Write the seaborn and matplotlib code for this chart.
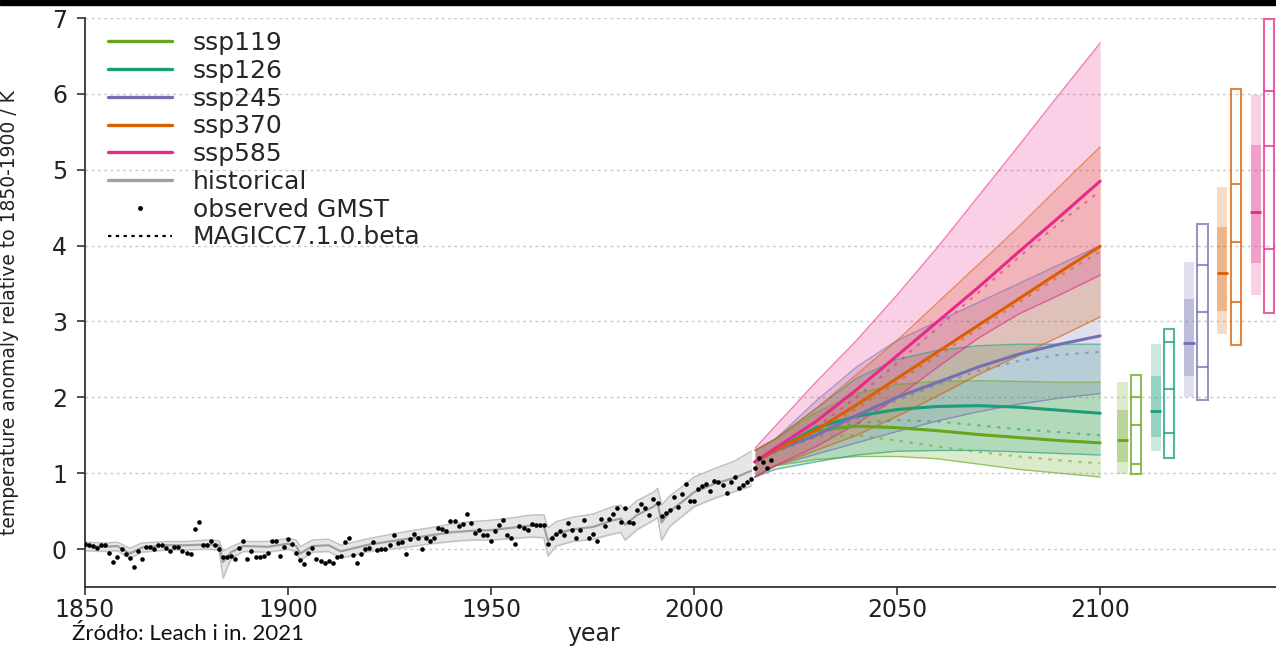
import matplotlib
matplotlib.use('Agg')
import matplotlib.pyplot as plt
from matplotlib.lines import Line2D
from matplotlib.patches import Rectangle
import seaborn as sns

# scenarios and colours
scenarios = ['ssp119', 'ssp126', 'ssp245', 'ssp370', 'ssp585']
colors = ['#66a61e', '#1b9e77', '#7570b3', '#d95f02', '#e7298a']

# observed GMST, 1850-2019
obs_years = list(range(1850, 2020))
obs_gmst = [
    0.07, 0.06, 0.04, 0.02, 0.05, 0.05, -0.05, -0.17, -0.10, 0.00,
    -0.07, -0.12, -0.24, -0.03, -0.13, 0.03, 0.03, 0.00, 0.05, 0.06,
    0.02, -0.03, 0.03, 0.03, -0.03, -0.05, -0.07, 0.26, 0.36, 0.06,
    0.05, 0.10, 0.06, 0.00, -0.10, -0.10, -0.09, -0.13, 0.01, 0.11,
    -0.13, -0.03, -0.11, -0.11, -0.09, -0.05, 0.10, 0.10, -0.09, 0.03,
    0.13, 0.07, -0.05, -0.15, -0.20, -0.05, 0.02, -0.13, -0.16, -0.19,
    -0.16, -0.19, -0.11, -0.09, 0.09, 0.14, -0.08, -0.18, -0.06, 0.00,
    0.02, 0.09, -0.01, 0.00, 0.00, 0.06, 0.19, 0.08, 0.09, -0.07,
    0.13, 0.20, 0.14, 0.00, 0.14, 0.10, 0.14, 0.28, 0.27, 0.24,
    0.37, 0.37, 0.31, 0.33, 0.46, 0.34, 0.21, 0.25, 0.19, 0.19,
    0.10, 0.24, 0.32, 0.38, 0.19, 0.14, 0.07, 0.30, 0.28, 0.25,
    0.33, 0.32, 0.32, 0.32, 0.07, 0.15, 0.20, 0.24, 0.19, 0.34,
    0.25, 0.15, 0.25, 0.38, 0.15, 0.20, 0.11, 0.40, 0.30, 0.39,
    0.46, 0.54, 0.36, 0.54, 0.36, 0.35, 0.51, 0.59, 0.54, 0.45,
    0.66, 0.61, 0.44, 0.47, 0.52, 0.68, 0.56, 0.72, 0.86, 0.63,
    0.63, 0.79, 0.83, 0.86, 0.77, 0.90, 0.88, 0.85, 0.74, 0.88,
    0.95, 0.81, 0.85, 0.88, 0.93, 1.07, 1.20, 1.15, 1.07, 1.18,
]

# historical model run: median and range
hist_years = [1850, 1855, 1858, 1861, 1864, 1870, 1875, 1880, 1883, 1884,
              1886, 1889, 1895, 1900, 1902, 1903, 1906, 1910, 1913, 1920,
              1925, 1930, 1935, 1940, 1945, 1950, 1955, 1960, 1963, 1964,
              1966, 1970, 1975, 1980, 1982, 1983, 1986, 1990, 1991, 1992,
              1994, 1997, 2000, 2005, 2010, 2014]
hist_mid = [0.04, 0.03, 0.04, -0.06, 0.02, 0.05, 0.05, 0.06, 0.05, -0.17,
            -0.04, 0.04, 0.03, 0.07, 0.04, -0.06, 0.04, 0.05, -0.03, 0.06,
            0.10, 0.14, 0.18, 0.22, 0.24, 0.25, 0.28, 0.31, 0.30, 0.11,
            0.20, 0.26, 0.29, 0.38, 0.40, 0.32, 0.45, 0.56, 0.61, 0.35,
            0.50, 0.62, 0.75, 0.86, 0.94, 1.03]
hist_lo = [-0.02, -0.03, -0.02, -0.12, -0.04, -0.01, -0.01, 0.00, -0.01, -0.38,
           -0.12, -0.03, -0.04, 0.00, -0.03, -0.15, -0.04, -0.03, -0.12, -0.03,
           0.00, 0.03, 0.07, 0.10, 0.12, 0.12, 0.14, 0.16, 0.15, -0.09,
           0.04, 0.10, 0.13, 0.20, 0.22, 0.12, 0.26, 0.38, 0.42, 0.12,
           0.30, 0.43, 0.56, 0.67, 0.76, 0.83]
hist_hi = [0.09, 0.08, 0.09, 0.01, 0.08, 0.10, 0.10, 0.12, 0.11, -0.03,
           0.03, 0.10, 0.10, 0.14, 0.12, 0.03, 0.12, 0.13, 0.05, 0.14,
           0.19, 0.24, 0.28, 0.33, 0.36, 0.38, 0.41, 0.45, 0.45, 0.28,
           0.36, 0.42, 0.46, 0.56, 0.58, 0.50, 0.64, 0.75, 0.80, 0.58,
           0.70, 0.82, 0.95, 1.06, 1.16, 1.29]

# projections
proj_years = [2015, 2020, 2030, 2040, 2050, 2060, 2070, 2080, 2090, 2100]

ssp119_mid = [1.15, 1.30, 1.56, 1.62, 1.60, 1.56, 1.51, 1.47, 1.43, 1.40]
ssp119_lo = [0.95, 1.10, 1.18, 1.22, 1.22, 1.19, 1.12, 1.05, 1.00, 0.95]
ssp119_hi = [1.30, 1.45, 1.80, 2.05, 2.17, 2.21, 2.22, 2.21, 2.20, 2.20]
ssp119_magicc = [1.15, 1.28, 1.48, 1.50, 1.43, 1.35, 1.28, 1.22, 1.17, 1.13]

ssp126_mid = [1.15, 1.30, 1.60, 1.75, 1.84, 1.88, 1.89, 1.87, 1.83, 1.79]
ssp126_lo = [0.95, 1.05, 1.15, 1.24, 1.29, 1.30, 1.30, 1.28, 1.26, 1.24]
ssp126_hi = [1.30, 1.45, 1.85, 2.25, 2.50, 2.62, 2.68, 2.70, 2.70, 2.70]
ssp126_magicc = [1.15, 1.28, 1.52, 1.66, 1.70, 1.68, 1.63, 1.58, 1.54, 1.50]

ssp245_mid = [1.15, 1.30, 1.50, 1.76, 2.00, 2.20, 2.40, 2.57, 2.70, 2.81]
ssp245_lo = [0.95, 1.10, 1.25, 1.40, 1.55, 1.69, 1.81, 1.91, 1.99, 2.05]
ssp245_hi = [1.30, 1.45, 1.95, 2.40, 2.75, 3.00, 3.25, 3.50, 3.75, 4.00]
ssp245_magicc = [1.15, 1.28, 1.48, 1.72, 1.96, 2.17, 2.35, 2.48, 2.56, 2.60]

ssp370_mid = [1.15, 1.30, 1.57, 1.90, 2.25, 2.60, 2.95, 3.30, 3.65, 3.99]
ssp370_lo = [0.95, 1.10, 1.30, 1.50, 1.75, 2.02, 2.30, 2.55, 2.80, 3.06]
ssp370_hi = [1.30, 1.45, 1.85, 2.30, 2.75, 3.25, 3.75, 4.25, 4.78, 5.30]
ssp370_magicc = [1.15, 1.28, 1.53, 1.85, 2.20, 2.55, 2.90, 3.25, 3.60, 3.92]

ssp585_mid = [1.15, 1.33, 1.68, 2.10, 2.55, 3.00, 3.45, 3.92, 4.38, 4.85]
ssp585_lo = [0.95, 1.10, 1.35, 1.65, 2.00, 2.40, 2.78, 3.10, 3.35, 3.61]
ssp585_hi = [1.33, 1.62, 2.20, 2.75, 3.35, 3.98, 4.65, 5.32, 6.00, 6.67]
ssp585_magicc = [1.15, 1.30, 1.60, 2.00, 2.45, 2.92, 3.38, 3.85, 4.30, 4.72]

mids = [ssp119_mid, ssp126_mid, ssp245_mid, ssp370_mid, ssp585_mid]
los = [ssp119_lo, ssp126_lo, ssp245_lo, ssp370_lo, ssp585_lo]
his = [ssp119_hi, ssp126_hi, ssp245_hi, ssp370_hi, ssp585_hi]
magiccs = [ssp119_magicc, ssp126_magicc, ssp245_magicc, ssp370_magicc, ssp585_magicc]

# 2100 ranges at the right: filled = this model, outline = MAGICC
fill_p05 = [0.99, 1.29, 2.00, 2.83, 3.35]
fill_p17 = [1.15, 1.48, 2.28, 3.14, 3.77]
fill_p50 = [1.44, 1.82, 2.72, 3.64, 4.44]
fill_p83 = [1.83, 2.28, 3.29, 4.25, 5.32]
fill_p95 = [2.20, 2.70, 3.79, 4.77, 5.99]

out_p05 = [0.99, 1.20, 1.97, 2.69, 3.11]
out_p17 = [1.12, 1.53, 2.40, 3.26, 3.96]
out_p50 = [1.63, 2.11, 3.13, 4.05, 5.31]
out_p83 = [2.00, 2.73, 3.74, 4.81, 6.04]
out_p95 = [2.29, 2.90, 4.28, 6.07, 6.99]

sns.set_theme(style='ticks')
plt.rcParams['font.family'] = ['DejaVu Sans']

fig = plt.figure(figsize=(12.76, 6.46), dpi=100)
ax = fig.add_axes([85 / 1276, 59 / 646, 1191 / 1276, 569 / 646])

# historical
ax.fill_between(hist_years, hist_lo, hist_hi, color='#e6e6e6', zorder=1)
sns.lineplot(x=hist_years, y=hist_lo, color='#c0c0c0', lw=1, ax=ax, zorder=2)
sns.lineplot(x=hist_years, y=hist_hi, color='#c0c0c0', lw=1, ax=ax, zorder=2)
sns.lineplot(x=hist_years, y=hist_mid, color='#a0a0a0', lw=1.6, ax=ax, zorder=2)

# projection bands
for i in range(5):
    c = colors[i]
    ax.fill_between(proj_years, los[i], his[i], color=c, alpha=0.22, lw=0, zorder=2)
    sns.lineplot(x=proj_years, y=los[i], color=c, alpha=0.6, lw=1, ax=ax, zorder=3)
    sns.lineplot(x=proj_years, y=his[i], color=c, alpha=0.6, lw=1, ax=ax, zorder=3)

for i in range(5):
    sns.lineplot(x=proj_years, y=magiccs[i], color=colors[i], alpha=0.55, lw=1.6,
                 linestyle=(0, (1.5, 3)), ax=ax, zorder=4)
for i in range(5):
    sns.lineplot(x=proj_years, y=mids[i], color=colors[i], lw=2.2, ax=ax, zorder=5)

# observed
sns.scatterplot(x=obs_years, y=obs_gmst, color='black', s=11, linewidth=0, ax=ax, zorder=6)

# range bars at the right
for i in range(5):
    c = colors[i]
    xf = 2105.5 + 8.2 * i
    xo = xf + 3.3
    ax.bar(xf, fill_p95[i] - fill_p05[i], bottom=fill_p05[i], width=2.5,
           color=c, alpha=0.22, lw=0, zorder=3)
    ax.bar(xf, fill_p83[i] - fill_p17[i], bottom=fill_p17[i], width=2.5,
           color=c, alpha=0.3, lw=0, zorder=3)
    ax.hlines(fill_p50[i], xf - 1.4, xf + 1.4, color=c, lw=2, zorder=4)
    ax.bar(xo, out_p95[i] - out_p05[i], bottom=out_p05[i], width=2.6,
           fill=False, edgecolor=c, alpha=0.75, lw=1.5, zorder=4)
    ax.hlines([out_p17[i], out_p50[i], out_p83[i]], xo - 1.3, xo + 1.3,
              color=c, alpha=0.75, lw=1.5, zorder=4)

ax.set_xlim(1850, 2143.3)
ax.set_ylim(-0.5, 7)
ax.set_xticks([1850, 1900, 1950, 2000, 2050, 2100])
ax.set_yticks([0, 1, 2, 3, 4, 5, 6, 7])
ax.grid(axis='y', color='#c8c8c8', lw=1, linestyle=(0, (2, 2.5)))
ax.set_axisbelow(True)
sns.despine(ax=ax)
for s in ['left', 'bottom']:
    ax.spines[s].set_color('#333333')
    ax.spines[s].set_linewidth(1.3)
ax.tick_params(axis='both', length=6, width=1.2, color='#333333',
               labelsize=17, labelcolor='#222222')
ax.tick_params(axis='y', pad=7)
ax.tick_params(axis='x', pad=2)

ax.set_xlabel('year', fontsize=17, color='#222222')
ax.set_ylabel('temperature anomaly relative to 1850-1900 / K', fontsize=13.5, color='#222222')
ax.xaxis.set_label_coords(0.427, -0.062)
ax.yaxis.set_label_coords(-0.055, 0.483)

handles = [Line2D([], [], color=c, lw=2.4) for c in colors]
handles.append(Line2D([], [], color='#a0a0a0', lw=2.4))
handles.append(Line2D([], [], color='black', marker='.', ms=5, lw=0))
handles.append(Line2D([], [], color='black', lw=1.6, linestyle=(0, (1.5, 2))))
labels = scenarios + ['historical', 'observed GMST', 'MAGICC7.1.0.beta']
ax.legend(handles, labels, loc='upper left', bbox_to_anchor=(0.0193, 0.977),
          frameon=False, fontsize=18, handlelength=2.55, handletextpad=0.85,
          labelspacing=0.15, borderpad=0, borderaxespad=0)

# black strip along the top edge
fig.add_artist(Rectangle((0, 1 - 5 / 646), 1, 5 / 646, transform=fig.transFigure,
                         color='black', zorder=10))

fig.text(72 / 1276, (646 - 624) / 646, 'Źródło: Leach i in. 2021',
         fontsize=16, family=['Lato', 'DejaVu Sans'], color='#111111', va='top')

fig.savefig('out.png', dpi=100)
